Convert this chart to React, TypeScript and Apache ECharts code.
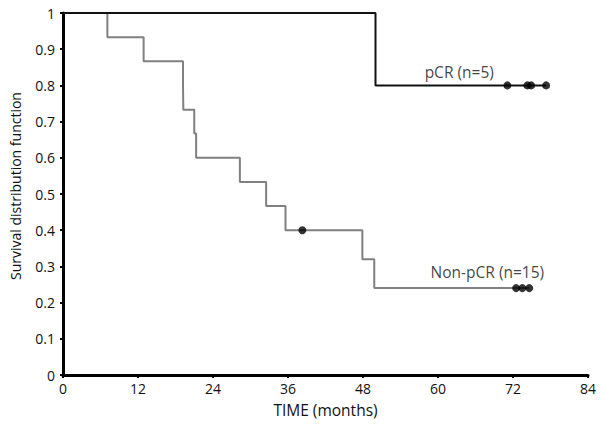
import React, { useEffect, useRef } from "react";
import * as echarts from "echarts";

// Kaplan-Meier step points (time in months, survival)
const pcrSteps: [number, number][] = [
  [0, 1],
  [50, 0.8],
  [77.3, 0.8],
];
const pcrCensored: [number, number][] = [
  [71.1, 0.8],
  [74.3, 0.8],
  [74.9, 0.8],
  [77.3, 0.8],
];
const nonPcrSteps: [number, number][] = [
  [0, 1],
  [7.1, 0.933],
  [12.9, 0.867],
  [19.2, 0.8],
  [19.25, 0.733],
  [21.0, 0.667],
  [21.3, 0.6],
  [28.3, 0.533],
  [32.5, 0.467],
  [35.6, 0.4],
  [47.9, 0.32],
  [49.8, 0.24],
  [74.6, 0.24],
];
const nonPcrCensored: [number, number][] = [
  [38.3, 0.4],
  [72.5, 0.24],
  [73.5, 0.24],
  [74.6, 0.24],
];
const annotations = [
  { text: "pCR (n=5)", x: 63.4, y: 0.838 },
  { text: "Non-pCR (n=15)", x: 67.9, y: 0.285 },
];
const xTicks = { min: 0, max: 84, interval: 12 };
const yTicks = { min: 0, max: 1, interval: 0.1 };

const FONT = "Open Sans";

export default function App() {
  const ref = useRef<HTMLDivElement>(null);
  useEffect(() => {
    document.body.style.margin = "0";
    const chart = echarts.init(ref.current!, null, { renderer: "svg" });
    chart.setOption({
      animation: false,
      backgroundColor: "#ffffff",
      grid: { left: 59, right: 14, top: 13, bottom: 50, containLabel: false },
      xAxis: {
        type: "value",
        min: xTicks.min,
        max: xTicks.max,
        interval: xTicks.interval,
        name: "TIME (months)",
        nameLocation: "middle",
        nameGap: 27,
        nameTextStyle: { color: "#111", fontFamily: FONT, fontSize: 15.5 },
        axisLine: { show: true, lineStyle: { color: "#000", width: 3 } },
        axisTick: { show: true, length: 3, lineStyle: { color: "#000", width: 2 } },
        minorTick: { show: true, splitNumber: 6, length: 2, lineStyle: { color: "#000", width: 1.5 } },
        axisLabel: { color: "#111", fontFamily: FONT, fontSize: 14, margin: 6 },
        splitLine: { show: false },
      },
      yAxis: {
        type: "value",
        min: yTicks.min,
        max: yTicks.max,
        interval: yTicks.interval,
        name: "Survival distribution function",
        nameLocation: "middle",
        nameGap: 41,
        nameRotate: 90,
        nameTextStyle: { color: "#111", fontFamily: FONT, fontSize: 14, padding: [0, 0, 0, 16] },
        axisLine: { show: true, lineStyle: { color: "#000", width: 3 } },
        axisTick: { show: true, length: 3, lineStyle: { color: "#000", width: 2 } },
        axisLabel: { color: "#111", fontFamily: FONT, fontSize: 14, margin: 8 },
        splitLine: { show: false },
      },
      series: [
        {
          type: "line",
          step: "end",
          data: nonPcrSteps,
          symbol: "none",
          lineStyle: { color: "#808080", width: 2 },
          z: 2,
        },
        {
          type: "line",
          step: "end",
          data: pcrSteps,
          symbol: "none",
          lineStyle: { color: "#111111", width: 2 },
          z: 3,
        },
        {
          type: "scatter",
          data: [...pcrCensored, ...nonPcrCensored],
          symbol: "circle",
          symbolSize: 8,
          itemStyle: { color: "#000" },
          z: 4,
        },
        {
          type: "scatter",
          data: annotations.map((a) => ({ value: [a.x, a.y], name: a.text })),
          symbolSize: 0,
          label: {
            show: true,
            position: "inside",
            formatter: (p: any) => p.name,
            color: "#111",
            fontFamily: FONT,
            fontSize: 15.5,
          },
          z: 5,
        },
      ],
    });
    return () => chart.dispose();
  }, []);
  return (
    <div
      ref={ref}
      style={{ position: "absolute", left: 0, top: 0, width: 602, height: 425 }}
    />
  );
}
